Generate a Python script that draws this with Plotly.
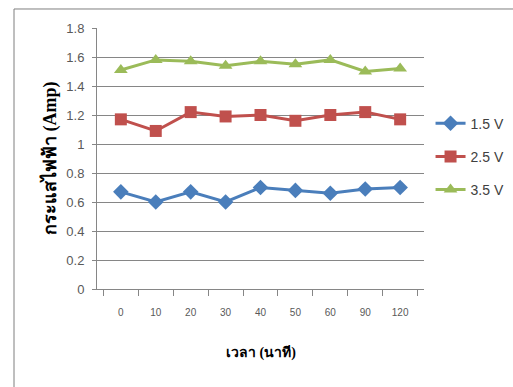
import plotly.graph_objects as go

# Measurement times (minutes) shown as categories
times = ["0", "10", "20", "30", "40", "50", "60", "90", "120"]

# Current (Amp) for each supply voltage
current_15v = [0.67, 0.60, 0.67, 0.60, 0.70, 0.68, 0.66, 0.69, 0.70]
current_25v = [1.17, 1.09, 1.22, 1.19, 1.20, 1.16, 1.20, 1.22, 1.17]
current_35v = [1.51, 1.58, 1.57, 1.54, 1.57, 1.55, 1.58, 1.50, 1.52]

series_names = ["1.5 V", "2.5 V", "3.5 V"]
series_colors = ["#4A7EBB", "#C0504D", "#9BBB59"]
series_symbols = ["diamond", "square", "triangle-up"]
series_sizes = [12, 12, 12]

x_title = "เวลา (นาที)"
y_title = "กระแสไฟฟ้า (Amp)"

fig = go.Figure()
for i, (name, vals) in enumerate(zip(series_names, [current_15v, current_25v, current_35v])):
    fig.add_trace(go.Scatter(
        x=times, y=vals, name=name, mode="lines+markers",
        legendgroup=name,
        line=dict(color=series_colors[i], width=3),
        marker=dict(symbol=series_symbols[i], size=series_sizes[i], color=series_colors[i]),
    ))

tick_font = dict(family="Liberation Sans, Arial, sans-serif", color="#595959")
title_font = dict(family="Liberation Serif, serif", color="#000000")

fig.update_layout(
    width=513, height=387,
    margin=dict(l=97, r=89, t=28, b=98, autoexpand=False),
    paper_bgcolor="white", plot_bgcolor="white",
    showlegend=True,
    legend=dict(
        x=1.02, y=0.695, xanchor="left", yanchor="top",
        font=dict(family="Liberation Sans, Arial, sans-serif", size=14, color="#404040"),
        tracegroupgap=12,
        bgcolor="rgba(0,0,0,0)",
    ),
    xaxis=dict(
        type="category",
        showline=True, linecolor="#868686", linewidth=1,
        ticks="outside", tickson="boundaries", ticklen=6, tickcolor="#868686",
        ticklabelstandoff=14,
        tickfont=dict(size=10, **tick_font),
        showgrid=False,
    ),
    yaxis=dict(
        range=[0, 1.8], dtick=0.2,
        showline=True, linecolor="#868686", linewidth=1,
        ticks="outside", ticklen=4, tickcolor="#868686",
        ticklabelstandoff=5,
        showgrid=True, gridcolor="#868686", gridwidth=1,
        zeroline=False,
        tickfont=dict(size=13, **tick_font),
    ),
    shapes=[
        # outer chart frame (extends past the right and bottom edges)
        dict(type="rect", xref="paper", yref="paper",
             x0=-0.2538, x1=1.6, y0=-0.6, y1=1.0728,
             line=dict(color="#7F7F7F", width=1), fillcolor="rgba(0,0,0,0)", layer="below"),
    ],
    annotations=[
        # axis titles
        dict(text="<b>" + x_title + "</b>", xref="paper", yref="paper",
             x=0.5, y=-0.245, xanchor="center", yanchor="middle", showarrow=False,
             font=dict(size=14, **title_font)),
        dict(text="<b>" + y_title + "</b>", xref="paper", yref="paper",
             x=-0.145, y=0.5, xanchor="center", yanchor="middle", showarrow=False,
             textangle=-90, font=dict(size=18, **title_font)),
    ],
)

fig.write_html("out.html")
